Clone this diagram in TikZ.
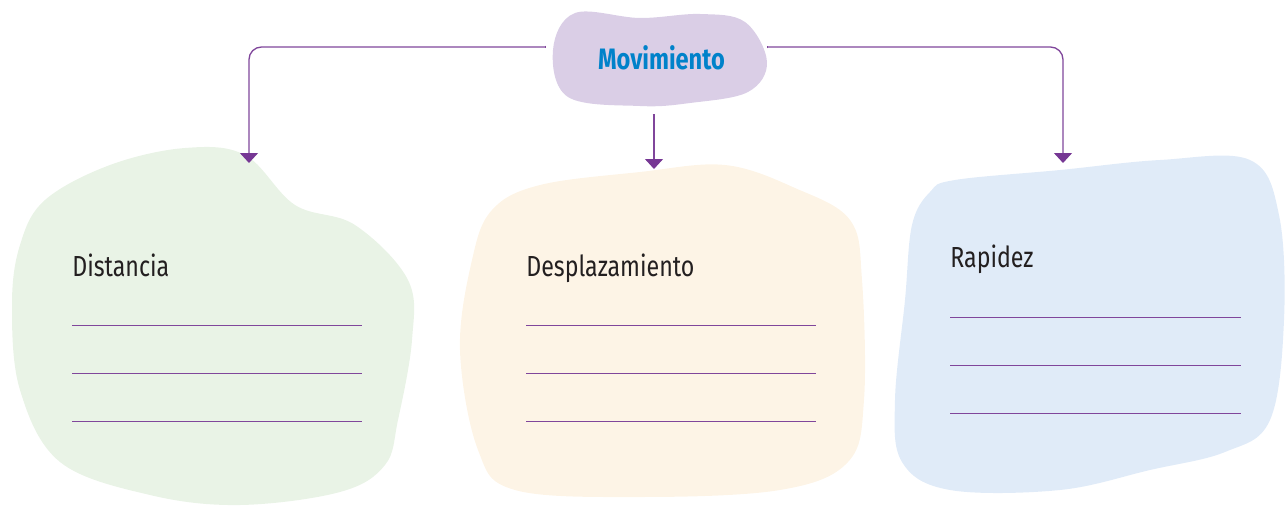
\documentclass[tikz,border=0pt]{standalone}
\usepackage{fontspec}
\setmainfont{Fira Sans}
\newfontfamily\lblfont[FakeStretch=0.8]{Fira Sans}
\usetikzlibrary{arrows.meta}
\definecolor{conn}{RGB}{128,70,155}
\definecolor{tip}{RGB}{118,55,148}
\definecolor{movfill}{RGB}{218,206,230}
\definecolor{movtext}{RGB}{0,130,202}
\definecolor{greenfill}{RGB}{233,243,230}
\definecolor{orangefill}{RGB}{253,244,230}
\definecolor{bluefill}{RGB}{224,235,248}
\definecolor{ink}{RGB}{35,31,32}
\tikzset{
  blob/.style={draw=none,smooth cycle,tension=0.6},
  link/.style={conn,line width=0.75pt,rounded corners=0.25cm,
    {Bar[width=1.6pt,line width=0.6pt]}-{Triangle[width=0.36cm,length=0.2cm,tip]}},
  title/.style={anchor=base west,inner sep=0pt,ink,font=\lblfont\fontsize{16.5}{19}\selectfont},
  rule/.style={conn,line width=0.5pt}
}
\begin{document}
\begin{tikzpicture}[x=0.02cm,y=-0.02cm]
  \useasboundingbox (0,0) rectangle (1285,507);
  % blobs
  \fill[movfill] plot[blob] coordinates {(575,13) (640,18) (700,14) (745,22) (767,62)
    (748,92) (690,103) (640,106) (568,97) (553,50)};
  \fill[greenfill] plot[blob] coordinates {(110,165) (185,148) (245,155) (295,205)
    (355,225) (408,280) (412,340) (398,420) (385,465) (340,492) (240,505) (150,495)
    (60,462) (20,390) (12,305) (20,245) (45,200)};
  \fill[orangefill] plot[blob] coordinates {(540,185) (640,172) (725,165) (795,188)
    (850,220) (862,280) (864,400) (848,462) (780,490) (640,497) (515,490) (478,450)
    (460,350) (472,260) (492,210)};
  \fill[bluefill] plot[blob] coordinates {(955,180) (1060,170) (1160,160) (1250,160)
    (1279,215) (1284,320) (1270,420) (1225,452) (1150,470) (1060,490) (950,490)
    (902,462) (895,400) (905,300) (912,225) (930,192)};
  % texts
  \node[anchor=base,inner sep=0pt,movtext,font=\lblfont\bfseries\fontsize{16.8}{19}\selectfont]
    (mov) at (661.5,69) {Movimiento};
  \node[title] (dist) at (72,276) {Distancia};
  \node[title] (desp) at (526,276) {Desplazamiento};
  \node[title] (rap) at (950,267) {Rapidez};
  % connectors
  \coordinate (movL) at (546,47);
  \coordinate (movR) at (767,47);
  \coordinate (movB) at (654,114);
  \coordinate (distT) at (249,163);
  \coordinate (despT) at (654,169);
  \coordinate (rapT) at (1063,163);
  \draw[link] (movL) -| (distT);
  \draw[link] (movR) -| (rapT);
  \draw[link] (movB) -- (despT);
  % answer lines
  \foreach \y in {325,373,421}{
    \draw[rule] (72,\y) -- (362,\y);
    \draw[rule] (526,\y) -- (816,\y);
  }
  \foreach \y in {317,365,413}
    \draw[rule] (950,\y) -- (1241,\y);
\end{tikzpicture}
\end{document}
